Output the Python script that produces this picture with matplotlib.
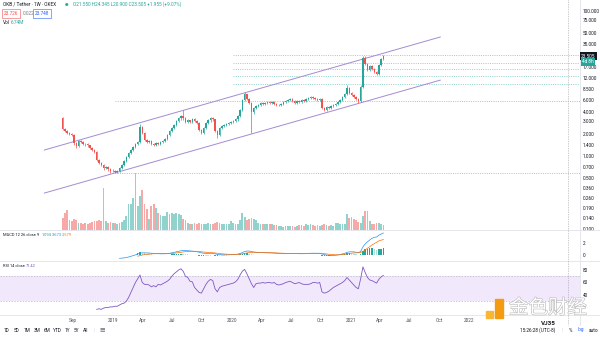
import numpy as np
import pandas as pd
import matplotlib
matplotlib.use('Agg')
import matplotlib.pyplot as plt
import matplotlib.dates as mdates
import matplotlib.patheffects as pe
from matplotlib.lines import Line2D
from matplotlib.patches import Rectangle
from matplotlib.ticker import NullLocator

plt.rcParams['font.family'] = ['Roboto', 'Noto Sans CJK SC', 'DejaVu Sans']

# ---------------------------------------------------------------- data (weekly OKB/USDT)
FIRST_WEEK = '2018-07-30'
first_open = 3.30
closes = [2.35, 2.20, 2.07, 2.00, 1.95, 1.50, 1.36, 1.60, 1.55, 1.48,
          1.45, 1.40, 1.30, 1.22, 1.14, 0.88, 0.80, 0.75, 0.68, 0.70,
          0.66, 0.62, 0.63, 0.61, 0.63, 0.68, 0.75, 0.85, 0.97, 1.10,
          1.21, 1.33, 1.46, 1.56, 2.50, 2.07, 1.66, 1.56, 1.61, 1.46,
          1.42, 1.51, 1.46, 1.56, 1.61, 1.71, 1.95, 2.20, 2.43, 2.67,
          3.03, 3.30, 3.55, 3.30, 2.94, 3.10, 2.94, 3.20, 3.03, 2.85,
          2.28, 2.07, 2.43, 2.85, 3.10, 3.30, 3.20, 2.20, 1.95, 2.43,
          2.60, 2.67, 2.76, 2.85, 2.94, 3.03, 3.20, 3.55, 4.30, 5.90,
          7.10, 6.10, 5.40, 4.00, 4.60, 4.90, 5.00, 5.40, 5.20, 5.40,
          5.50, 5.40, 5.50, 5.20, 5.00, 5.00, 5.20, 5.50, 5.70, 5.90,
          6.10, 5.70, 5.40, 5.70, 5.50, 5.90, 5.70, 6.10, 6.30, 6.50,
          6.30, 6.10, 5.90, 6.10, 4.60, 4.30, 4.70, 4.60, 4.90, 5.00,
          5.20, 5.50, 5.90, 6.50, 7.10, 8.60, 7.40, 6.90, 6.50, 6.10,
          5.70, 9.00, 22.4, 18.5, 15.3, 17.3, 15.8, 14.5, 13.3, 18.0,
          21.5, 23.5]
highs = [3.45, 2.45, 2.28, 2.15, 2.08, 2.02, 1.56, 1.66, 1.68, 1.61,
         1.53, 1.49, 1.44, 1.34, 1.26, 1.18, 0.91, 0.83, 0.78, 0.73,
         0.73, 0.68, 0.66, 0.65, 0.65, 0.70, 0.78, 0.88, 1.00, 1.14,
         1.26, 1.38, 1.52, 1.62, 2.75, 2.62, 2.12, 1.72, 1.67, 1.66,
         1.52, 1.56, 1.56, 1.61, 1.67, 1.77, 2.02, 2.28, 2.52, 2.77,
         3.14, 3.42, 3.70, 4.30, 3.40, 3.20, 3.18, 3.30, 3.30, 3.12,
         2.95, 2.36, 2.50, 2.95, 3.20, 3.42, 3.40, 3.28, 2.28, 2.52,
         2.70, 2.77, 2.86, 2.95, 3.05, 3.14, 3.32, 3.68, 4.45, 6.10,
         7.60, 7.25, 6.30, 5.55, 4.75, 5.08, 5.18, 5.58, 5.55, 5.58,
         5.68, 5.65, 5.68, 5.65, 5.35, 5.15, 5.38, 5.68, 5.90, 6.10,
         6.35, 6.30, 5.90, 5.88, 5.90, 6.10, 6.05, 6.30, 6.52, 6.72,
         6.70, 6.50, 6.30, 6.30, 6.25, 4.75, 4.85, 4.85, 5.05, 5.15,
         5.38, 5.68, 6.10, 6.70, 7.35, 9.50, 8.80, 7.60, 7.10, 6.70,
         6.30, 9.40, 23.5, 23.8, 19.0, 17.9, 17.8, 16.3, 15.0, 18.6,
         22.2, 24.3]
lows = [2.26, 2.12, 1.99, 1.93, 1.88, 1.44, 1.30, 1.31, 1.49, 1.42,
        1.39, 1.34, 1.25, 1.17, 1.10, 0.85, 0.77, 0.72, 0.65, 0.66,
        0.63, 0.59, 0.60, 0.58, 0.58, 0.61, 0.66, 0.73, 0.82, 0.94,
        1.06, 1.17, 1.28, 1.41, 1.50, 2.00, 1.60, 1.50, 1.50, 1.40,
        1.37, 1.37, 1.40, 1.41, 1.50, 1.55, 1.65, 1.88, 2.12, 2.34,
        2.57, 2.92, 3.18, 3.18, 2.84, 2.84, 2.84, 2.84, 2.92, 2.75,
        2.20, 1.99, 2.00, 2.34, 2.75, 2.98, 3.08, 2.12, 1.77, 1.88,
        2.34, 2.52, 2.58, 2.66, 2.75, 2.84, 2.92, 3.08, 3.42, 4.15,
        5.70, 5.90, 5.20, 2.07, 3.85, 4.45, 4.72, 4.82, 5.00, 5.00,
        5.20, 5.20, 5.20, 5.00, 4.82, 4.82, 4.82, 5.00, 5.30, 5.48,
        5.68, 5.48, 5.20, 5.20, 5.30, 5.30, 5.48, 5.48, 5.88, 6.05,
        6.05, 5.88, 5.68, 5.68, 4.42, 4.15, 4.15, 4.42, 4.42, 4.72,
        4.82, 5.00, 5.30, 5.68, 6.25, 6.85, 7.10, 6.62, 6.25, 5.88,
        5.40, 5.50, 8.60, 17.8, 14.7, 14.8, 15.2, 14.0, 12.9, 13.0,
        17.4, 20.9]
volume = [12, 17, 20, 10, 9, 11, 10, 7, 7, 6,
          7, 6, 7, 8, 9, 9, 10, 9, 42, 9,
          7, 8, 7, 7, 6, 7, 8, 10, 14, 26,
          26, 32, 57, 24, 34, 40, 26, 21, 11, 24,
          26, 22, 17, 15, 14, 14, 18, 16, 17, 16,
          17, 16, 15, 11, 10, 7, 6, 6, 7, 6,
          7, 6, 6, 6, 7, 6, 6, 7, 8, 7,
          6, 6, 6, 6, 9, 7, 6, 6, 10, 17,
          13, 10, 11, 12, 11, 10, 7, 6, 6, 6,
          6, 6, 6, 5, 5, 4, 4, 3, 4, 4,
          4, 4, 3, 4, 5, 5, 4, 6, 5, 6,
          5, 4, 5, 4, 5, 6, 5, 4, 5, 4,
          7, 7, 6, 6, 6, 16, 12, 13, 11, 10,
          8, 7, 14, 19, 19, 9, 6, 6, 7, 7,
          6, 5]

RSI_START = 15
rsi = [17, 18, 17, 19, 20, 20, 21, 21, 22, 22,
       24, 26, 27, 30, 36, 44, 52, 60, 66, 72,
       60, 57, 57, 56, 53, 55, 53, 57, 56, 58,
       60, 62, 65, 70, 74, 77, 80, 82, 78, 70,
       68, 62, 61, 52, 48, 44, 43, 50, 57, 62,
       65, 63, 50, 45, 52, 54, 55, 56, 57, 58,
       59, 61, 65, 72, 78, 81, 74, 66, 58, 52,
       58, 59, 59, 60, 59, 60, 60, 59, 60, 57,
       56, 57, 58, 60, 61, 62, 60, 58, 59, 60,
       58, 57, 57, 57, 58, 60, 60, 59, 60, 45,
       43, 44, 46, 49, 52, 54, 56, 58, 60, 63,
       68, 64, 60, 56, 52, 50, 66, 85, 76, 68,
       64, 63, 61, 59, 65, 69, 71.42]

MACD_START = 25
macd = [-0.55, -0.52, -0.48, -0.42, -0.33, -0.22, -0.10, 0.02, 0.15, 0.32,
        0.36, 0.36, 0.35, 0.33, 0.30, 0.27, 0.24, 0.22, 0.21, 0.20,
        0.21, 0.24, 0.29, 0.36, 0.44, 0.53, 0.62, 0.70, 0.74, 0.74,
        0.72, 0.68, 0.64, 0.60, 0.55, 0.46, 0.36, 0.30, 0.28, 0.28,
        0.29, 0.29, 0.20, 0.10, 0.06, 0.04, 0.03, 0.03, 0.04, 0.05,
        0.07, 0.10, 0.15, 0.24, 0.40, 0.58, 0.66, 0.66, 0.58, 0.50,
        0.46, 0.43, 0.41, 0.39, 0.37, 0.36, 0.35, 0.33, 0.32, 0.29,
        0.26, 0.24, 0.22, 0.22, 0.24, 0.27, 0.27, 0.25, 0.25, 0.22,
        0.21, 0.22, 0.24, 0.26, 0.29, 0.30, 0.30, 0.29, 0.29, 0.17,
        0.05, -0.01, -0.06, -0.07, -0.07, -0.04, 0.01, 0.08, 0.18, 0.28,
        0.45, 0.52, 0.54, 0.52, 0.47, 0.40, 0.58, 1.35, 1.85, 2.20,
        2.50, 2.80, 2.95, 3.00, 3.30, 3.50, 3.67]
SIGNAL_START = 33
signal = [-0.20, -0.10, -0.01, 0.07, 0.12, 0.16, 0.19, 0.21, 0.22, 0.22,
          0.22, 0.22, 0.22, 0.22, 0.24, 0.26, 0.30, 0.35, 0.40, 0.46,
          0.51, 0.56, 0.59, 0.61, 0.62, 0.62, 0.61, 0.58, 0.54, 0.49,
          0.45, 0.42, 0.39, 0.37, 0.34, 0.29, 0.24, 0.20, 0.17, 0.14,
          0.12, 0.11, 0.10, 0.10, 0.11, 0.14, 0.19, 0.27, 0.35, 0.41,
          0.44, 0.45, 0.45, 0.44, 0.43, 0.42, 0.41, 0.40, 0.39, 0.38,
          0.36, 0.35, 0.33, 0.31, 0.29, 0.28, 0.27, 0.27, 0.27, 0.26,
          0.26, 0.25, 0.24, 0.23, 0.24, 0.24, 0.25, 0.26, 0.27, 0.27,
          0.28, 0.26, 0.22, 0.18, 0.13, 0.09, 0.06, 0.04, 0.03, 0.04,
          0.07, 0.11, 0.18, 0.24, 0.30, 0.34, 0.37, 0.37, 0.41, 0.60,
          0.85, 1.12, 1.40, 1.68, 1.90, 2.12, 2.35, 2.47, 2.58]

# drawings: horizontal levels and the parallel channel
levels = [24.6, 19.3, 15.8, 12.6, 9.8, 5.8, 0.58]
level_starts = ['2020-01-06', '2020-01-06', '2020-01-06', '2020-01-06',
                '2020-01-06', '2019-01-07', '2019-01-07']
level_colors = ['#a7b6b9', '#ef9a9a', '#b2b5be', '#80cbc4', '#80cbc4', '#80cbc4', '#b2b5be']
channel_dates = ['2018-06-04', '2021-10-04']
channel_upper = [1.21, 43.6]
channel_lower = [0.309, 11.1]

price_ticks = [100, 75, 50, 35, 17, 12, 8.5, 6, 4, 3, 2, 1.4, 1, 0.7, 0.5, 0.36, 0.26, 0.19, 0.14, 0.1]
time_ticks = ['2018-09-01', '2019-01-01', '2019-04-01', '2019-07-01', '2019-10-01',
              '2020-01-01', '2020-04-01', '2020-07-01', '2020-10-01', '2021-01-01',
              '2021-04-01', '2021-07-01', '2021-10-01', '2022-01-01']
time_labels = ['Sep', '2019', 'Apr', 'Jul', 'Oct', '2020', 'Apr', 'Jul', 'Oct',
               '2021', 'Apr', 'Jul', 'Oct', '2022']

# ---------------------------------------------------------------- layout helpers
W, H = 600, 337
UP, DOWN = '#26a69a', '#ef5350'
TXT = '#131722'
GRAY = '#787b86'
FS = 3.4


def box(x0, y0, x1, y1):
    return [x0 / W, 1 - y1 / H, (x1 - x0) / W, (y1 - y0) / H]


def ftext(x, y, s, **kw):
    kw.setdefault('fontsize', FS)
    kw.setdefault('color', TXT)
    kw.setdefault('va', 'center')
    return fig.text(x / W, 1 - y / H, s, **kw)


def dnum(s):
    return mdates.date2num(pd.Timestamp(s).to_pydatetime())


ref = dnum('2019-01-01')
px_day = 0.325
xlim = (ref - 113 / px_day, ref + (580 - 113) / px_day)

n = len(closes)
dates = pd.date_range(FIRST_WEEK, periods=n, freq='7D')
x = mdates.date2num(dates.to_pydatetime())
opens = np.array([first_open] + closes[:-1])
c = np.array(closes)
up = c >= opens
cols = np.where(up, UP, DOWN)

fig = plt.figure(figsize=(6, 3.37), dpi=100)

# ---------------------------------------------------------------- main price pane
ax = fig.add_axes(box(0, 0, 580, 230))
axv = ax.twinx()
axv.bar(x, volume, width=5.5, color=np.where(up, '#92d2cc', '#f7a9a7'), linewidth=0)
axv.set_ylim(0, 230)
axv.set_yticks([])
ax.set_zorder(axv.get_zorder() + 1)
ax.patch.set_visible(False)

ax.set_yscale('log')
ax.vlines(x, lows, highs, colors=cols, lw=0.5, zorder=3)
ax.bar(x, np.abs(c - opens), bottom=np.minimum(c, opens), width=4.6,
       color=cols, linewidth=0, zorder=4)

for lv, st, lc in zip(levels, level_starts, level_colors):
    ax.hlines(lv, dnum(st), xlim[1], colors=lc, linestyles=(0, (1.2, 1.5)),
              lw=0.6, zorder=2)
cd = [dnum(d) for d in channel_dates]
ax.plot(cd, channel_upper, color='#a58bd3', lw=0.7, zorder=2)
ax.plot(cd, channel_lower, color='#a58bd3', lw=0.7, zorder=2)

ax.set_xlim(*xlim)
ax.set_ylim(0.0957, 140.9)
ax.yaxis.tick_right()
ax.set_yticks(price_ticks)
ax.set_yticklabels([f'{t:.3f}' for t in price_ticks])
ax.yaxis.set_minor_locator(NullLocator())
ax.tick_params(axis='y', length=0, pad=2.2, labelsize=FS, labelcolor=TXT)
ax.tick_params(axis='x', bottom=False, labelbottom=False)
for a in (ax, axv):
    for s in a.spines.values():
        s.set_visible(False)

# ---------------------------------------------------------------- MACD pane
am = fig.add_axes(box(0, 230, 580, 261))
hist_x = x[SIGNAL_START:]
m_al = np.array(macd[SIGNAL_START - MACD_START:])
hist = m_al - np.array(signal)
hcols = []
for i, h in enumerate(hist):
    prev = hist[i - 1] if i > 0 else 0
    if h >= 0:
        hcols.append('#26a69a' if h > prev else '#b2dfdb')
    else:
        hcols.append('#ffcdd2' if h > prev else '#ff5252')
am.bar(hist_x, hist, width=4.6, color=hcols, linewidth=0)
am.plot(x[MACD_START:], macd, color='#2196f3', lw=0.5)
am.plot(hist_x, signal, color='#ff6d00', lw=0.5)
am.set_xlim(*xlim)
am.set_ylim(-1.0, 4.17)
am.yaxis.tick_right()
am.set_yticks([0, 2])
am.tick_params(axis='y', length=0, pad=2.2, labelsize=FS, labelcolor=TXT)
am.tick_params(axis='x', bottom=False, labelbottom=False)
for s in am.spines.values():
    s.set_visible(False)

# ---------------------------------------------------------------- RSI pane
ar = fig.add_axes(box(0, 261, 580, 315))
ar.axhspan(30, 70, color='#f1e9fb', lw=0)
ar.axhline(70, color='#b2b5be', lw=0.5, ls=(0, (2, 2)))
ar.axhline(30, color='#b2b5be', lw=0.5, ls=(0, (2, 2)))
ar.plot(x[RSI_START:], rsi, color='#7e57c2', lw=0.6)
ar.set_xlim(*xlim)
ar.set_ylim(8.0, 94.4)
ar.yaxis.tick_right()
ar.set_yticks([40, 60, 80])
ar.set_xticks([dnum(t) for t in time_ticks])
ar.set_xticklabels(time_labels)
ar.tick_params(axis='y', length=0, pad=2.2, labelsize=FS, labelcolor=TXT)
ar.tick_params(axis='x', length=0, pad=2.0, labelsize=FS, labelcolor='#50535e')
for s in ar.spines.values():
    s.set_visible(False)

# ---------------------------------------------------------------- separators
for yy in (230, 261, 315):
    fig.add_artist(Line2D([0, 1], [1 - yy / H] * 2, color='#e0e3eb', lw=0.6))
fig.add_artist(Line2D([580 / W] * 2, [1, 1 - 325 / H], color='#e0e3eb', lw=0.6))
fig.add_artist(Line2D([568 / W] * 2, [1, 1 - 325 / H], color='#9598a1', lw=0.5, ls=(0, (1, 1.5))))

# ---------------------------------------------------------------- legends / header
ftext(3, 4.5, 'OKB / Tether · 1W · OKEX')
ftext(65, 4.5, '●', color=UP, fontsize=2.6)
ftext(73, 4.5, 'O21.550 H24.345 L20.900 C23.505 +1.955 (+9.07%)', color=UP)
ftext(4, 13.5, '23.726', color=DOWN,
      bbox=dict(boxstyle='square,pad=0.35', fc='white', ec=DOWN, lw=0.4))
ftext(23, 13.5, '0.022', color=GRAY)
ftext(35, 13.5, '23.748', color='#2962ff',
      bbox=dict(boxstyle='square,pad=0.35', fc='white', ec='#2962ff', lw=0.4))
ftext(3, 22, 'Vol', color=TXT)
ftext(11, 22, '6.74M', color=UP)

LEG = 2.9
ftext(3, 235, 'MACD 12 26 close 9', color=TXT, fontsize=LEG)
ftext(42, 235, '1.094', color=UP, fontsize=LEG)
ftext(52, 235, '3.673', color='#2196f3', fontsize=LEG)
ftext(62, 235, '2.579', color='#ff6d00', fontsize=LEG)
ftext(3, 266, 'RSI 14 close', color=TXT, fontsize=LEG)
ftext(26, 266, '71.42', color='#7e57c2', fontsize=LEG)

# last price labels on the price scale
ftext(581, 56.4, '23.505', color='white',
      bbox=dict(boxstyle='square,pad=0.3', fc='#131722', ec='none'))
ftext(582, 61.8, '4d 8h', color='white',
      bbox=dict(boxstyle='square,pad=0.3', fc=UP, ec='none'))

# ---------------------------------------------------------------- bottom toolbar
for xx, s in zip([4, 14, 24, 34, 44, 53, 65, 74, 83],
                 ['1D', '5D', '1M', '3M', '6M', 'YTD', '1Y', '5Y', 'All']):
    ftext(xx, 330, s)
ftext(94, 330, '|', color='#d1d4dc')
ftext(99, 330, '▦', color=GRAY, fontsize=4)
ftext(520, 330, '15:26:28 (UTC-8)')
ftext(562, 330, '|', color='#d1d4dc')
ftext(569, 330, '%')
ftext(578, 330, 'log', color='#2962ff')
ftext(589, 330, 'auto')

# ---------------------------------------------------------------- watermark
fig.add_artist(Rectangle((486 / W, 1 - 318 / H), 7 / W, 7 / H,
                         transform=fig.transFigure, color='#f7b733', zorder=10))
fig.add_artist(Rectangle((495 / W, 1 - 318 / H), 8 / W, 19 / H,
                         transform=fig.transFigure, color='#f39c12', zorder=10))
wm = ftext(548, 308, '金色财经', fontsize=14, color='white', ha='center',
           family=['Noto Sans CJK SC'], zorder=10)
wm.set_path_effects([pe.withStroke(linewidth=0.8, foreground='#b8b8b8')])
ftext(548, 323.5, 'VJ35', fontsize=4.5, color='#1e1e1e', ha='center',
      weight='bold', zorder=11)

fig.savefig('out.png', dpi=100, facecolor='white')
